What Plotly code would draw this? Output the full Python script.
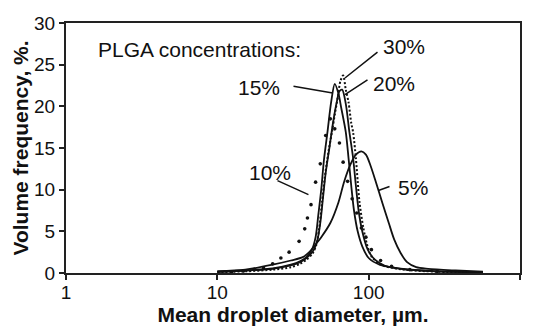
import numpy as np
import plotly.graph_objects as go

# ---- data (droplet diameter in µm, volume frequency in %) ----
d15 = [10, 15.3, 23.2, 30.6, 35.2, 38.8, 42.2, 44.6, 46.5, 48.6, 50.6, 53.5, 56.5, 59.7,
       63.2, 65.9, 70.6, 73.6, 76.7, 80.0, 84.6, 90.7, 100, 118, 163, 284, 569]
v15 = [0.15, 0.3, 0.55, 1.0, 1.4, 1.9, 2.8, 4.3, 7.0, 10.0, 13.5, 17.0, 20.5, 22.7,
       21.5, 19.8, 16.9, 13.8, 10.5, 7.5, 5.0, 3.2, 1.8, 1.0, 0.5, 0.2, 0.1]

d20 = [10, 15.3, 23.2, 30.6, 35.2, 38.8, 42.8, 45.9, 47.9, 49.9, 52.0, 55.0, 58.1, 61.5,
       64.1, 66.8, 70.6, 74.6, 78.9, 82.3, 85.8, 90.7, 98.6, 110, 127, 175, 284, 569]
v20 = [0.15, 0.3, 0.5, 0.9, 1.3, 1.8, 2.6, 4.0, 6.0, 9.0, 12.0, 15.0, 18.0, 20.5,
       21.8, 22.0, 20.3, 16.9, 13.8, 10.5, 7.5, 5.0, 2.8, 1.6, 0.9, 0.45, 0.2, 0.1]

d30 = [10, 15.3, 23.2, 30.6, 35.2, 38.8, 42.8, 45.3, 47.2, 49.2, 51.3, 54.2, 57.3, 59.7,
       62.4, 65.0, 67.8, 70.6, 73.6, 76.7, 78.9, 82.3, 84.6, 87.0, 92.0, 97.3, 104.3,
       120, 163, 284, 569]
v30 = [0.1, 0.2, 0.4, 0.7, 1.1, 1.6, 2.4, 3.5, 5.5, 8.5, 11.5, 14.5, 17.0, 19.0,
       21.0, 23.0, 23.7, 22.0, 20.5, 18.0, 16.9, 13.8, 11.0, 8.5, 5.5, 3.5, 2.0,
       1.0, 0.45, 0.15, 0.05]

d5 = [10, 15.3, 23.2, 30.6, 36.7, 40.5, 44.0, 48.6, 55.8, 63.2, 68.7, 75.7, 82.3, 89.5,
      95.9, 102.8, 111.7, 123.2, 135.8, 147.6, 162.6, 179.4, 206, 247, 375, 569]
v5 = [0.2, 0.4, 1.0, 1.5, 1.9, 2.5, 3.3, 4.3, 6.0, 8.5, 10.9, 13.0, 14.2, 14.6,
      14.2, 12.9, 10.9, 8.4, 6.0, 4.0, 2.4, 1.3, 0.7, 0.5, 0.3, 0.15]

d10 = [12.4, 14.9, 17.6, 20.2, 23.2, 26.3, 29.8, 34.7, 37.8, 39.4, 41.6, 44.6, 47.9, 52.0,
       55.8, 59.7, 64.1, 67.8, 72.6, 77.8, 83.4, 89.5, 95.9, 104.3, 119.9, 141.6, 187.1,
       284, 430]
v10 = [0.1, 0.25, 0.45, 0.6, 1.1, 1.8, 2.5, 3.8, 5.3, 6.6, 8.2, 10.9, 13.1, 16.5,
       18.5, 17.3, 15.6, 13.3, 11.0, 8.9, 7.2, 5.4, 4.3, 2.8, 1.5, 0.8, 0.4, 0.2, 0.1]

x_ticks = [1, 10, 100, 1000]
x_ticktext = ["1", "10", "100", "1000"]
y_ticks = [0, 5, 10, 15, 20, 25, 30]

labels = ["30%", "20%", "15%", "10%", "5%"]

FONT = "Liberation Sans, Arial, sans-serif"
INK = "#111111"

fig = go.Figure()
line_w = 1.8
fig.add_trace(go.Scatter(x=d5, y=v5, mode="lines", line=dict(color=INK, width=line_w, shape="spline", smoothing=0.8), name="5%"))
fig.add_trace(go.Scatter(x=d20, y=v20, mode="lines", line=dict(color=INK, width=line_w, shape="spline", smoothing=0.8), name="20%"))
fig.add_trace(go.Scatter(x=d15, y=v15, mode="lines", line=dict(color=INK, width=line_w, shape="spline", smoothing=0.8), name="15%"))
fig.add_trace(go.Scatter(x=d30, y=v30, mode="lines", line=dict(color=INK, width=2, dash="2px,2px", shape="spline", smoothing=0.8), name="30%"))
fig.add_trace(go.Scatter(x=d10, y=v10, mode="markers", marker=dict(color=INK, size=3.6), name="10%"))

# label texts (paper coords) and leader lines (tail -> point on curve)
W, H = 536, 329
L, R, T, B = 66, 16, 23, 56
pw, ph = W - L - R, H - T - B

def px2paper(px, py):
    return (px - L) / pw, 1 - (py - T) / ph

def px2data(px, py):
    return 3 * (px - L) / pw, 30 * (1 - (py - T) / ph)

# (label, text centre px, leader tail px, leader head data point)
lab_pos = [
    (labels[0], (404, 47), (379, 51), (69.7, 23.4)),
    (labels[1], (394, 83), (369, 79), (69.7, 21.4)),
    (labels[2], (259, 87), (292, 86), (57.8, 21.6)),
    (labels[3], (270, 172), (276, 180), (40.0, 9.4)),
    (labels[4], (413, 187), (391, 186), (116, 9.9)),
]
for txt, (tx, ty), (lx, ly), (hx, hy) in lab_pos:
    xp, yp = px2paper(tx, ty)
    fig.add_annotation(x=xp, y=yp, xref="paper", yref="paper", text=txt, showarrow=False,
                       font=dict(family=FONT, size=21, color=INK), xanchor="center", yanchor="middle")
    ax, ay = px2data(lx, ly)
    fig.add_annotation(x=np.log10(hx), y=hy, xref="x", yref="y", text="", showarrow=True,
                       axref="x", ayref="y", ax=ax, ay=ay, arrowhead=0, arrowwidth=1.5,
                       arrowcolor=INK, standoff=0, startstandoff=0)

xp, yp = px2paper(96, 49)
fig.add_annotation(x=xp, y=yp, xref="paper", yref="paper", text="PLGA concentrations:",
                   showarrow=False, font=dict(family=FONT, size=21, color=INK),
                   xanchor="left", yanchor="middle")

axis_common = dict(showline=True, linecolor="#222222", linewidth=2, mirror=True,
                   ticks="outside", ticklen=5, tickwidth=1.5, tickcolor="#222222",
                   showgrid=False, zeroline=False, automargin=False,
                   tickfont=dict(family=FONT, size=19, color=INK))

fig.update_xaxes(type="log", range=[0, 3], tickvals=x_ticks, ticktext=x_ticktext,
                 ticklabelstandoff=-4,
                 title=dict(text="<b>Mean droplet diameter, µm.</b>", standoff=5,
                            font=dict(family=FONT, size=21, color=INK)),
                 **axis_common)
fig.update_yaxes(range=[0, 30], tickvals=y_ticks,
                 title=dict(text="<b>Volume frequency, %.</b>", standoff=0,
                            font=dict(family=FONT, size=21, color=INK)),
                 **axis_common)

fig.update_layout(width=W, height=H, margin=dict(l=L, r=R, t=T, b=B),
                  paper_bgcolor="white", plot_bgcolor="white", showlegend=False)

fig.write_html("out.html")
